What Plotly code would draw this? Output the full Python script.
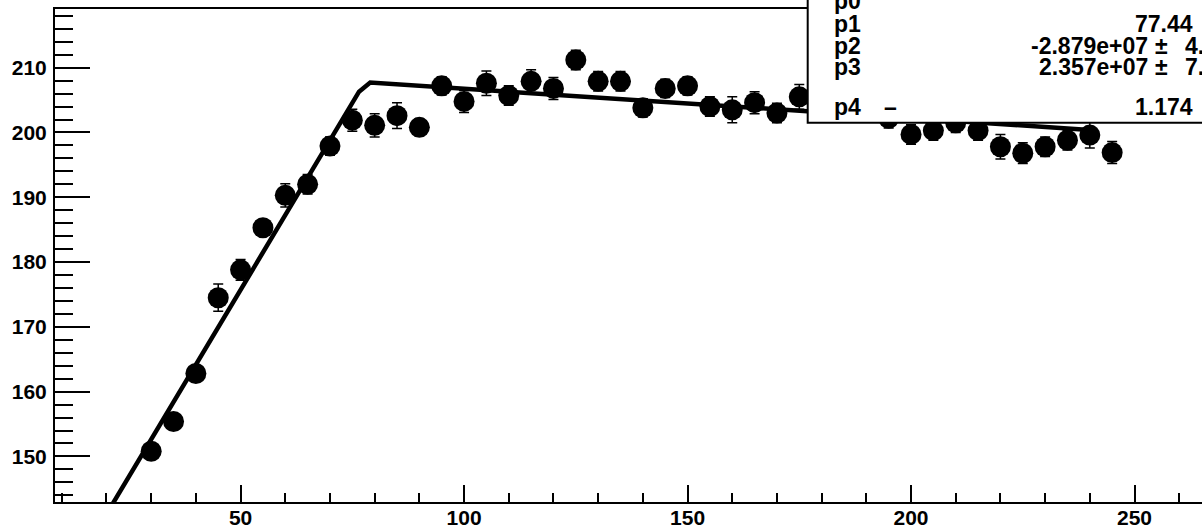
import plotly.graph_objects as go

# ---- data ----
x_vals = [30, 35, 40, 45, 50, 55, 60, 65, 70, 75, 80, 85, 90, 95, 100, 105, 110,
          115, 120, 125, 130, 135, 140, 145, 150, 155, 160, 165, 170, 175, 180,
          185, 190, 195, 200, 205, 210, 215, 220, 225, 230, 235, 240, 245]
y_vals = [150.8, 155.4, 162.8, 174.5, 178.8, 185.3, 190.3, 192.0, 197.9, 201.9,
          201.1, 202.6, 200.8, 207.2, 204.8, 207.6, 205.7, 207.9, 206.8, 211.2,
          207.9, 207.9, 203.8, 206.8, 207.2, 204.0, 203.5, 204.6, 203.0, 205.5,
          204.8, 203.8, 204.2, 202.2, 199.7, 200.3, 201.5, 200.3, 197.8, 196.8,
          197.8, 198.8, 199.6, 196.9]
y_errs = [1.0, 1.0, 1.2, 2.1, 1.6, 1.2, 1.8, 1.5, 1.4, 1.7, 1.8, 2.0, 1.3, 1.4,
          1.7, 1.9, 1.5, 1.8, 1.7, 1.5, 1.5, 1.5, 1.4, 1.4, 1.4, 1.5, 2.0, 1.7,
          1.5, 1.9, 1.5, 1.5, 1.5, 1.5, 1.5, 1.5, 1.5, 1.5, 1.9, 1.6, 1.5, 1.5,
          2.0, 1.7]

fit_x = [20, 76.5, 79.0, 240]
fit_y = [141.1, 206.3, 207.7, 200.4]

x_ticks = [50, 100, 150, 200, 250]
y_ticks = [150, 160, 170, 180, 190, 200, 210]

stat_names = ["p0", "p1", "p2", "p3", "p4"]
stat_values = ["", "77.44", "-2.879e+07", "2.357e+07", "1.174"]
stat_pm = ["", "", "\u00b1", "\u00b1", ""]
stat_errs = ["", "", "4.", "7.", ""]

# ---- geometry (pixels) ----
W, H = 1202, 529
L, R, T, B = 55, 0, 9, 27
PW, PH = W - L - R, H - T - B


def px(xp):
    return (xp - L) / PW


def py(yp):
    return (H - B - yp) / PH


TICKFONT = dict(family="Liberation Sans, Arial, sans-serif", size=21, color="black", weight="bold")
BOXFONT = dict(family="Liberation Sans, Arial, sans-serif", size=23, color="black", weight="bold")

fig = go.Figure()
fig.add_trace(go.Scatter(
    x=x_vals, y=y_vals, mode="markers",
    marker=dict(size=21, color="black", line=dict(width=0)),
    error_y=dict(type="data", array=y_errs, visible=True, color="black",
                 thickness=1.5, width=5),
    showlegend=False, hoverinfo="skip"))
fig.add_trace(go.Scatter(
    x=fit_x, y=fit_y, mode="lines",
    line=dict(color="black", width=4.5),
    showlegend=False, hoverinfo="skip"))

fig.update_layout(
    width=W, height=H, autosize=False,
    margin=dict(l=L, r=R, t=T, b=B, pad=0),
    paper_bgcolor="white", plot_bgcolor="white",
    xaxis=dict(range=[8.48, 265.1], tickmode="array", tickvals=x_ticks,
               ticktext=[str(v) for v in x_ticks],
               ticks="inside", ticklen=17, tickwidth=1.5, tickcolor="black",
               showline=True, linecolor="black", linewidth=2, mirror=True,
               showgrid=False, zeroline=False, tickfont=TICKFONT,
               ticklabelstandoff=-4,
               minor=dict(dtick=10, tick0=0, ticks="inside", ticklen=9,
                          tickwidth=1.5, tickcolor="black", showgrid=False)),
    yaxis=dict(range=[142.97, 219.06], tickmode="array", tickvals=y_ticks,
               ticktext=[str(v) for v in y_ticks],
               ticks="inside", ticklen=35, tickwidth=1.5, tickcolor="black",
               showline=True, linecolor="black", linewidth=2, mirror=False,
               showgrid=False, zeroline=False, tickfont=TICKFONT,
               ticklabelstandoff=2,
               minor=dict(dtick=2, tick0=0, ticks="inside", ticklen=18,
                          tickwidth=1.5, tickcolor="black", showgrid=False)),
)

# stats box
fig.add_shape(type="rect", xref="paper", yref="paper",
              x0=px(807.7), x1=px(1260), y0=py(122.7), y1=py(-40),
              fillcolor="white", line=dict(color="black", width=2), layer="above")

row_y = [1, 24, 46, 67, 107]
val_right = [1195, 1195, 1150, 1150, 1195]
for name, val, pm, err, ry, vr in zip(stat_names, stat_values, stat_pm, stat_errs,
                                      row_y, val_right):
    fig.add_annotation(xref="paper", yref="paper", x=px(832), y=py(ry), text=name,
                       showarrow=False, xanchor="left", yanchor="middle", font=BOXFONT)
    if val:
        fig.add_annotation(xref="paper", yref="paper", x=px(vr), y=py(ry), text=val,
                           showarrow=False, xanchor="right", yanchor="middle", font=BOXFONT)
    if pm:
        fig.add_annotation(xref="paper", yref="paper", x=px(1161), y=py(ry), text=pm,
                           showarrow=False, xanchor="center", yanchor="middle", font=BOXFONT)
    if err:
        fig.add_annotation(xref="paper", yref="paper", x=px(1183), y=py(ry), text=err,
                           showarrow=False, xanchor="left", yanchor="middle", font=BOXFONT)
fig.add_annotation(xref="paper", yref="paper", x=px(890), y=py(107), text="\u2013",
                   showarrow=False, xanchor="center", yanchor="middle", font=BOXFONT)

fig.write_html("out.html", config={"displayModeBar": False},
               post_script="document.body.style.margin='0';"
                           "document.body.style.overflow='hidden';")
